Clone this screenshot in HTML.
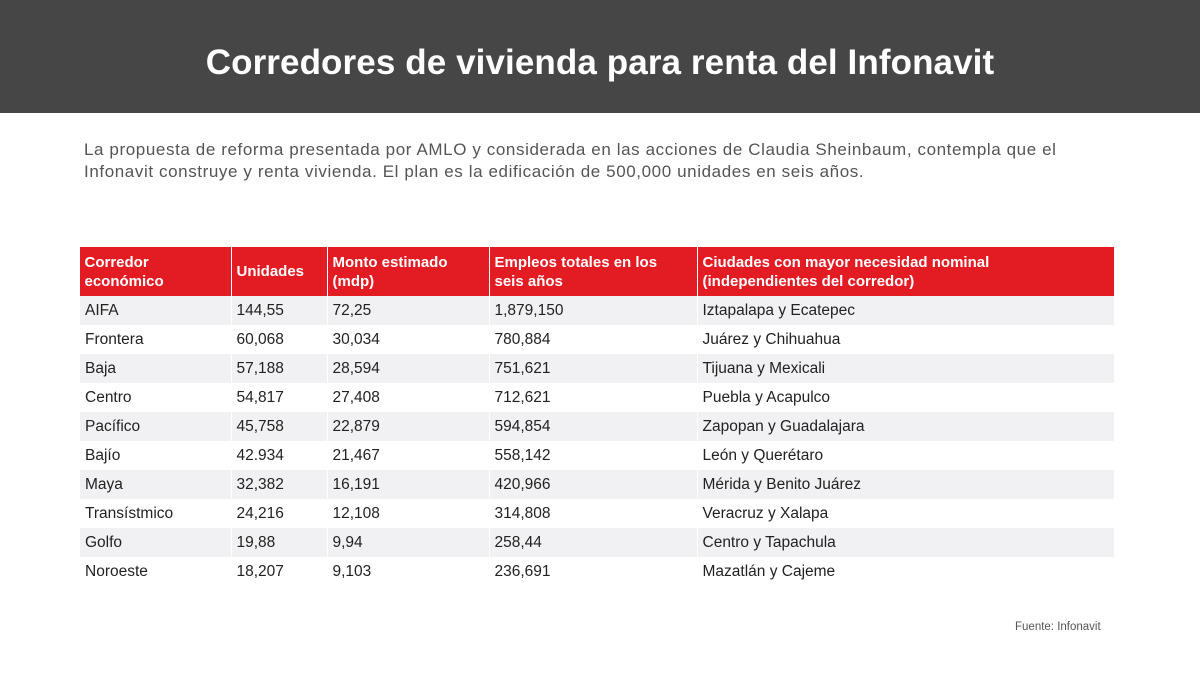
<!DOCTYPE html>
<html><head><meta charset="utf-8"><style>
body{margin:0;width:1200px;height:680px;background:#fff;font-family:"Liberation Sans",sans-serif;position:relative;overflow:hidden}
.top{position:absolute;left:0;top:0;width:1200px;height:113px;background:#464646;color:#fff;font-size:35px;font-weight:bold;text-align:center;line-height:128px}
.top span{position:relative;top:-1px;letter-spacing:0.1px}
.p{position:absolute;left:84px;top:139px;width:1100px;font-size:17px;letter-spacing:0.6px;line-height:22px;color:#555}
table{position:absolute;left:79px;top:247px;border-collapse:collapse;font-size:15.5px;color:#222}
th{background:#e31b23;color:#fff;text-align:left;font-weight:bold;font-size:15px;line-height:19px;height:49px;padding:0 5px;border-left:1px solid #fff;vertical-align:middle}
th:first-child{border-left:none}
td{height:29px;padding:0 5px;border-left:1px solid #fff}
tr:nth-child(odd) td{background:#f1f1f3}
.f{position:absolute;left:1015px;top:621px;font-size:11.5px;color:#555}
</style></head><body>
<div class="top"><span>Corredores de vivienda para renta del Infonavit</span></div>
<div class="p">La propuesta de reforma presentada por AMLO y considerada en las acciones de Claudia Sheinbaum, contempla que el<br>Infonavit construye y renta vivienda. El plan es la edificación de 500,000 unidades en seis años.</div>
<table>
<thead><tr><th style="width:141px">Corredor<br>económico</th><th style="width:85px">Unidades</th><th style="width:151px">Monto estimado<br>(mdp)</th><th style="width:197px">Empleos totales en los<br>seis años</th><th style="width:406px">Ciudades con mayor necesidad nominal<br>(independientes del corredor)</th></tr></thead>
<tbody>
<tr><td>AIFA</td><td>144,55</td><td>72,25</td><td>1,879,150</td><td>Iztapalapa y Ecatepec</td></tr>
<tr><td>Frontera</td><td>60,068</td><td>30,034</td><td>780,884</td><td>Juárez y Chihuahua</td></tr>
<tr><td>Baja</td><td>57,188</td><td>28,594</td><td>751,621</td><td>Tijuana y Mexicali</td></tr>
<tr><td>Centro</td><td>54,817</td><td>27,408</td><td>712,621</td><td>Puebla y Acapulco</td></tr>
<tr><td>Pacífico</td><td>45,758</td><td>22,879</td><td>594,854</td><td>Zapopan y Guadalajara</td></tr>
<tr><td>Bajío</td><td>42.934</td><td>21,467</td><td>558,142</td><td>León y Querétaro</td></tr>
<tr><td>Maya</td><td>32,382</td><td>16,191</td><td>420,966</td><td>Mérida y Benito Juárez</td></tr>
<tr><td>Transístmico</td><td>24,216</td><td>12,108</td><td>314,808</td><td>Veracruz y Xalapa</td></tr>
<tr><td>Golfo</td><td>19,88</td><td>9,94</td><td>258,44</td><td>Centro y Tapachula</td></tr>
<tr><td>Noroeste</td><td>18,207</td><td>9,103</td><td>236,691</td><td>Mazatlán y Cajeme</td></tr>
</tbody></table>
<div class="f">Fuente: Infonavit</div>
</body></html>
